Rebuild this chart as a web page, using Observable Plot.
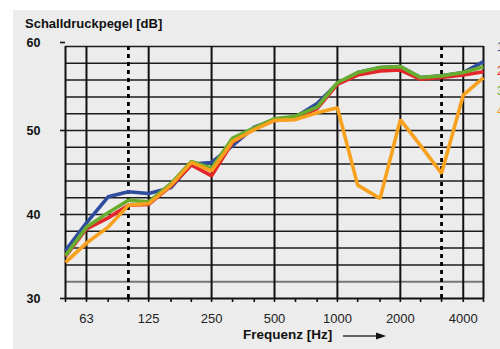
<!DOCTYPE html>
<html><head><meta charset="utf-8">
<script src="https://cdn.jsdelivr.net/npm/d3@7"></script>
<script src="https://cdn.jsdelivr.net/npm/@observablehq/plot@0.6"></script>
<style>
body{margin:0;background:#fff;}
#wrap{position:relative;width:500px;height:349px;overflow:hidden;}
#bg{position:absolute;left:13px;top:10px;right:0;bottom:0;background:#ebeceb;}
#chart{position:absolute;left:0;top:0;}
</style></head><body><div id="wrap"><div id="bg"></div><div id="chart"></div></div>
<script>
const freqs = [50,63,80,100,125,160,200,250,315,400,500,630,800,1000,1250,1600,2000,2500,3150,4000,5000];
const blue   = [35.7,39.0,42.1,42.7,42.5,43.2,46.0,46.2,48.2,50.4,51.3,51.6,53.2,55.6,56.9,57.5,57.6,56.3,56.5,56.9,58.2];
const red    = [35.0,38.3,39.6,41.1,41.2,43.4,45.9,44.6,48.6,50.2,51.2,51.4,52.6,55.5,56.6,57.1,57.2,56.1,56.3,56.6,57.0];
const green  = [35.1,38.5,40.2,41.7,41.5,43.7,46.3,45.5,49.1,50.3,51.4,51.7,52.8,55.7,56.9,57.5,57.6,56.3,56.5,56.9,57.6];
const orange = [34.3,36.6,38.5,41.1,41.3,43.5,46.2,45.2,48.7,50.1,51.2,51.3,52.1,52.7,43.5,41.9,51.3,48.2,44.9,54.2,56.3];
const seriesNames = ["1","2","3","4"];
const seriesColors = ["#2f4d9e","#e4262b","#68ad2e","#f7a11e"];
const labeledFreqs = [63,125,250,500,1000,2000,4000];
const frameFreqs = [50,5000];
const dottedFreqs = [100,3150];
const yTickValues = [30,40,50];
const yTopTick = [60];
const gridBlack = [34,36,38,40,42,44,46,48,50,52,54,56,58,60];
const gridGray = [32];
const titleText = "Schalldruckpegel [dB]";
const xTitleText = "Frequenz [Hz]";

const allSeries = [blue, red, green, orange];
const rows = [];
allSeries.forEach((vals, i) => vals.forEach((v, j) => rows.push({series: seriesNames[i], f: freqs[j], v})));

const font = "Liberation Sans, Arial, sans-serif";
const plot = Plot.plot({
  width: 500, height: 349,
  marginLeft: 65, marginRight: 17, marginTop: 46, marginBottom: 51,
  style: {background: "transparent", fontFamily: font, color: "#111", overflow: "hidden"},
  x: {type: "log", domain: [50, 5000]},
  y: {domain: [30, 60]},
  color: {domain: seriesNames, range: seriesColors},
  marks: [
    Plot.ruleY(gridBlack, {stroke: "#1c1c1c", strokeWidth: 1.5}),
    Plot.ruleY(gridGray, {stroke: "#777", strokeWidth: 2}),
    Plot.ruleX(labeledFreqs.concat(frameFreqs), {stroke: "#111", strokeWidth: 2}),
    Plot.ruleX(dottedFreqs, {stroke: "#000", strokeWidth: 2.8, strokeDasharray: "4,4"}),
    Plot.ruleY([30], {stroke: "#111", strokeWidth: 2}),
    Plot.line(rows, {x: "f", y: "v", z: "series", stroke: "series", strokeWidth: 3.6, strokeLinejoin: "miter", strokeLinecap: "butt"}),
    Plot.axisX(freqs, {tickSize: 4, tickFormat: () => "", stroke: "#111", strokeWidth: 1.6, label: null}),
    Plot.text(labeledFreqs, {x: d => d, frameAnchor: "bottom", dy: 20, lineAnchor: "middle", text: d => String(d), fontSize: 13, fill: "#222"}),
    Plot.axisY(yTickValues, {tickSize: 5, tickPadding: 20, fontSize: 12.5, fontWeight: "bold", strokeWidth: 1.6, tickFormat: d => String(d), fill: "#111", label: null}),
    Plot.axisY(yTopTick, {tickSize: 5, tickPadding: 20, fontSize: 12.5, fontWeight: "bold", strokeWidth: 1.6, dy: -4, tickFormat: d => String(d), fill: "#111", label: null})
  ]
});
document.getElementById("chart").appendChild(plot);

const svg = d3.select(plot);
svg.append("text").attr("x", 25).attr("y", 28).attr("font-family", font).attr("text-anchor", "start")
  .attr("font-size", 13).attr("font-weight", "bold").attr("fill", "#111").text(titleText);
svg.append("text").attr("x", 243).attr("y", 339).attr("font-family", font).attr("text-anchor", "start")
  .attr("font-size", 13.5).attr("font-weight", "bold").attr("fill", "#111").text(xTitleText);
svg.append("line").attr("x1", 343).attr("x2", 378).attr("y1", 336).attr("y2", 336)
  .attr("stroke", "#333").attr("stroke-width", 1.5);
svg.append("path").attr("d", "M376,332.5 L386,336 L376,339.5 Z").attr("fill", "#111");
const legendY = [47, 71, 91, 111];
seriesNames.forEach((n, i) => {
  svg.append("text").attr("x", 497).attr("y", legendY[i] + 4).attr("font-family", font).attr("text-anchor", "start")
    .attr("font-size", 12).attr("fill", seriesColors[i]).text(n + " Messung");
});
</script></body></html>
